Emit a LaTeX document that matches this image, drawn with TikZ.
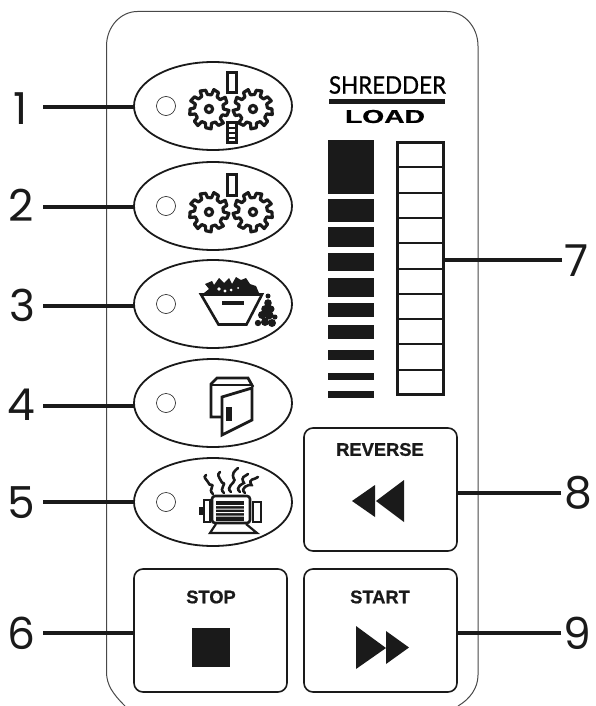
\documentclass[tikz,border=0pt]{standalone}
\usepackage{fontspec}
\usepackage{graphicx}
\usetikzlibrary{shapes.geometric}
\setmainfont{Liberation Sans}
\newfontfamily\digitfont{Poppins}
\newfontfamily\gillfont[FakeBold=0.9]{Lato}
\newfontfamily\heavyfont[FakeBold=0.9]{Liberation Sans Bold}
\definecolor{ink}{HTML}{1A1A1A}
\tikzset{
  x=1pt,y=-1pt,
  panel/.style={draw=ink!80,line width=1pt},
  pod/.style={draw=ink,line width=1.8pt,ellipse,minimum width=158pt,minimum height=88pt,inner sep=0pt,outer sep=0pt},
  led/.style={draw=ink,line width=.6pt,circle,minimum size=19pt,inner sep=0pt,fill=white},
  btn/.style={draw=ink,line width=1.6pt,rounded corners=9pt,minimum width=153pt,minimum height=123pt,inner sep=0pt,outer sep=0pt},
  leader/.style={draw=ink,line width=4.6pt},
  digit/.style={font=\digitfont\fontsize{44pt}{44pt}\selectfont,text=ink,inner sep=0pt},
  btntext/.style={font=\heavyfont\fontsize{18.3pt}{18.3pt}\selectfont,text=ink,inner sep=0pt},
  icon/.style={draw=ink,line width=2.6pt,line join=miter},
  gearline/.style={draw=ink,line width=3.2pt,line join=round},
  heat/.style={draw=ink,line width=2.6pt,line cap=round},
}
\newcommand{\gearicon}[3]{%
  \begin{scope}[shift={(#1,#2)},xscale=#3]
    \draw[gearline] (0:14.5)
      \foreach \a in {0,40,...,320}{
        -- ({\a+4}:20) -- ({\a+20}:19) -- ({\a+24}:14.5) -- ({\a+40}:14.5)
      } -- cycle;
    \draw[gearline] (0,0) circle (3.6pt);
  \end{scope}}
\newcommand{\heatwave}[4]{%
  \draw[heat] (#1,#2) .. controls ({#1-6},{#2-5}) and ({#1+4},{#2-9}) .. ({(#1+#3)/2},{(#2+#4)/2})
    .. controls ({(#1+#3)/2-4},{(#2+#4)/2-7}) and ({#3-3},{#4+3}) .. (#3,#4);}
\begin{document}
\begin{tikzpicture}
\useasboundingbox (0,0) rectangle (595,706);
% housing
\draw[panel] (125,706) .. controls (113,694) and (106.5,685) .. (106.5,672)
  -- (106.5,46) arc[start angle=180,end angle=90,x radius=31,y radius=-34.5]
  -- (447,11.5) arc[start angle=90,end angle=0,x radius=31,y radius=-34.5]
  -- (478,675) .. controls (478,688) and (470,699) .. (458,706);
% pods
\node[pod] (e1) at (213,106) {};
\node[pod] (e2) at (213,206) {};
\node[pod] (e3) at (213,304) {};
\node[pod] (e4) at (213,403) {};
\node[pod] (e5) at (213,502) {};
\node[led] (d1) at (166,106) {};
\node[led] (d2) at (166,206) {};
\node[led] (d3) at (166,304) {};
\node[led] (d4) at (166,403) {};
\node[led] (d5) at (166,502) {};
% icon 1
\gearicon{209}{109}{1}
\gearicon{253}{109}{-1}
\draw[icon] (227.5,72.5) rectangle (236.5,92.5);
\fill[white] (226,122) rectangle (238,144);
\draw[icon] (227.5,122.5) rectangle (236.5,142.5);
\draw[ink,line width=2pt] (227.5,128) -- (236.5,128) (227.5,133) -- (236.5,133) (227.5,138) -- (236.5,138);
% icon 2
\gearicon{209}{212}{1}
\gearicon{253}{212}{-1}
\draw[icon] (227.5,174.5) rectangle (236.5,195.5);
% icon 3
\draw[icon] (201,294.5) -- (262,294.5) -- (246.5,324.5) -- (218.5,324.5) -- cycle;
\fill[ink] (222,301) rectangle (244,304.5);
\fill[ink] (205,284) -- (212,281) -- (214,285) -- (219,278) -- (224,283) -- (229,278) -- (232,284)
  -- (236,277) -- (241,280) -- (246,278) -- (250,284) -- (256,286) -- (259,293) -- (204,293)
  -- (209,289) -- cycle;
\fill[white] (219,289) circle (1.9pt) (225,291) circle (1.7pt) (231,290) circle (1.5pt) (238,288) circle (1pt);
\fill[ink] (268,296) circle (2.5pt) (268,303) circle (3.8pt) (265,309) circle (3.8pt) (271,309) circle (3.5pt)
  (262,315) circle (4pt) (269,315) circle (4.5pt) (275,317) circle (2.5pt)
  (258,323) circle (3.2pt) (265,322) circle (4pt) (272,323) circle (4pt);
% icon 4
\draw[icon,line width=2.8pt] (222,417) -- (211,417) -- (211,384) -- (217,378) -- (248,378) -- (253,387);
\draw[ink,line width=1.4pt] (211,385) -- (252,385);
\draw[icon,fill=white,line width=2.8pt] (222,397) -- (252,388) -- (252,420) -- (222,435) -- cycle;
\fill[ink] (226,407) rectangle (232,421);
% icon 5
\heatwave{213}{494}{206}{475}
\heatwave{224}{493}{220}{472}
\heatwave{231}{492}{238}{468}
\heatwave{240}{492}{248}{474}
\heatwave{245}{493}{258}{477}
\draw[icon,rounded corners=3pt] (212,496) rectangle (250,523);
\fill[ink] (216,501) rectangle (244,521);
\fill[white] (216,505) rectangle (244,506) (216,508.5) rectangle (244,509.5) (216,512) rectangle (244,513) (216,515.5) rectangle (244,516.5);
\draw[icon,line width=2.2pt] (204,500) rectangle (210,522);
\fill[ink] (199,507) rectangle (203,515);
\draw[icon,line width=2.2pt] (253,502) rectangle (261,522);
\draw[icon,line width=2.2pt] (216,524) -- (210,533) -- (257,533) -- (246,524);
% title
\node[inner sep=0pt,anchor=center] (title) at (387.5,85) {\resizebox{117pt}{17.5pt}{\gillfont SHREDDER}};
\fill[ink] (329,99) rectangle (445,104);
\node[inner sep=0pt,anchor=center] (loadtxt) at (385,116.5) {\resizebox{80pt}{13pt}{\heavyfont LOAD}};
% bars
\foreach \t/\b in {140/194,199/222,227/247,253/271,278/297,303/317,325/339,350/360,373/380,391/398}
  \fill[ink] (328,\t) rectangle (374,\b);
% ladder
\node[draw=ink,line width=3pt,minimum width=46pt,minimum height=252pt,inner sep=0pt,outer sep=1.5pt] (ladder) at (420,268) {};
\foreach \y in {167,193,218,243,269,294,319,344,370}
  \draw[ink,line width=2.8pt] (397,\y) -- (443,\y);
% buttons
\node[btn] (b6) at (210.5,630.5) {};
\node[btn] (b8) at (380.5,489.5) {};
\node[btn] (b9) at (380.5,630.5) {};
\node[btntext] (t6) at (211,597) {STOP};
\node[btntext] (t8) at (380,449.5) {REVERSE};
\node[btntext] (t9) at (380,597) {START};
\fill[ink] (192,628) rectangle (230,667);
\fill[ink] (352,501) -- (375,485) -- (375,517) -- cycle;
\fill[ink] (376,501) -- (404,480) -- (404,522) -- cycle;
\fill[ink] (356,626) -- (386,648) -- (356,669) -- cycle;
\fill[ink] (386,631) -- (409,647.5) -- (386,664) -- cycle;
% digits
\node[digit] (n1) at (21,109) {1};
\node[digit] (n2) at (21,205) {2};
\node[digit] (n3) at (22,305) {3};
\node[digit] (n4) at (21,405) {4};
\node[digit] (n5) at (21,503) {5};
\node[digit] (n6) at (21,633) {6};
\node[digit] (n7) at (577,261) {7};
\node[digit] (n8) at (578,493) {8};
\node[digit] (n9) at (577,633) {9};
% leaders
\coordinate (c1) at (43,107);
\coordinate (c2) at (43,207);
\coordinate (c3) at (43,306);
\coordinate (c4) at (43,406);
\coordinate (c5) at (43,502);
\coordinate (c6) at (43,633);
\coordinate (c7) at (562,260);
\coordinate (c8) at (561,493);
\coordinate (c9) at (561,633);
\draw[leader] (c1) -- (e1.west |- c1);
\draw[leader] (c2) -- (e2.west |- c2);
\draw[leader] (c3) -- (e3.west |- c3);
\draw[leader] (c4) -- (e4.west |- c4);
\draw[leader] (c5) -- (e5.west |- c5);
\draw[leader] (c6) -- (b6.west |- c6);
\draw[leader] (c7) -- (ladder.east |- c7);
\draw[leader] (c8) -- (b8.east |- c8);
\draw[leader] (c9) -- (b9.east |- c9);
\end{tikzpicture}
\end{document}
